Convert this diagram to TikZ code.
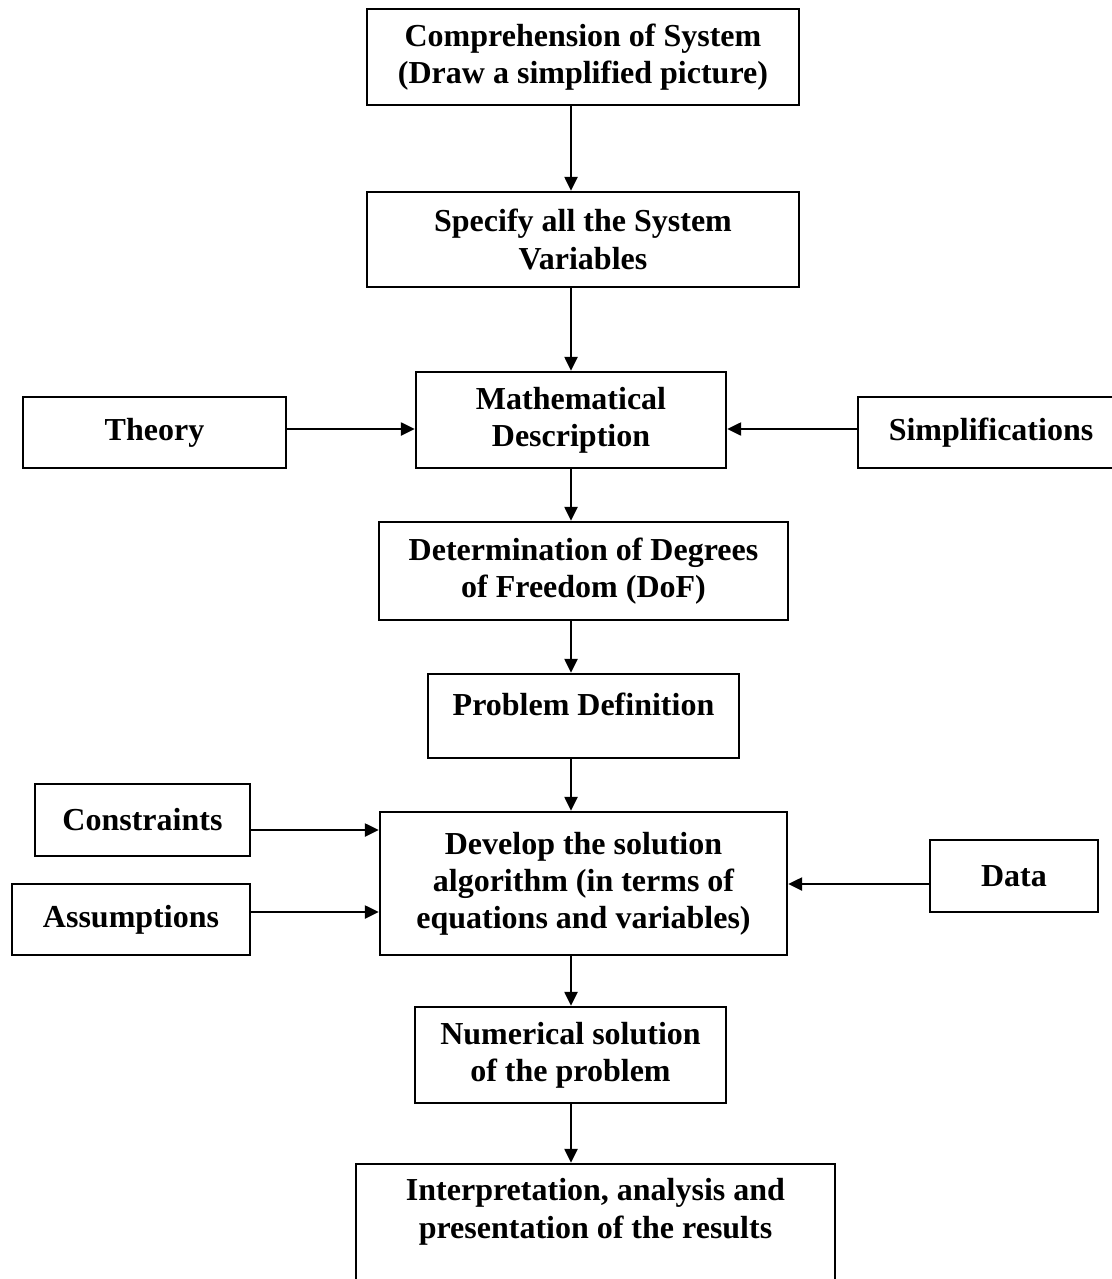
\documentclass[tikz,border=0pt]{standalone}
\usepackage{fontspec}
\setmainfont{Liberation Serif}
\usetikzlibrary{arrows.meta}
\begin{document}
\begin{tikzpicture}[x=0.5pt,y=-0.5pt,line cap=butt,line join=miter,
  box/.style={draw,line width=1.2pt,inner sep=0pt,align=center,
              font=\fontsize{16}{18.6}\selectfont\bfseries},
  arr/.style={-{Triangle[length=7pt,width=6.5pt]},line width=1.2pt}]
\useasboundingbox (0,0) rectangle (1112,1279);
\coordinate (axis) at (571,0);
% main column
\node[box,minimum width=216pt,minimum height=48pt] (comp) at (583,57)
  {Comprehension of System\\(Draw a simplified picture)};
\node[box,minimum width=216pt,minimum height=47.5pt] (spec) at (583,239.5)
  {Specify all the System\\Variables};
\node[box,minimum width=155pt,minimum height=48pt] (math) at (571,420)
  {Mathematical\\Description};
\node[box,minimum width=204.5pt,minimum height=49pt] (det) at (583.5,571)
  {Determination of Degrees\\of Freedom (DoF)};
\node[box,minimum width=155.5pt,minimum height=42pt,
      text height=11pt,text depth=12pt] (prob) at (583.5,716)
  {Problem Definition};
\node[box,minimum width=203.5pt,minimum height=71.5pt] (dev) at (583.5,883.5)
  {Develop the solution\\algorithm (in terms of\\equations and variables)};
\node[box,minimum width=155.5pt,minimum height=48pt] (num) at (570.5,1055)
  {Numerical solution\\of the problem};
\node[box,minimum width=239.5pt,minimum height=63pt,
      text height=29.6pt,text depth=18.6pt] (interp) at (595.5,1227)
  {Interpretation, analysis and\\presentation of the results};
% side inputs
\node[box,minimum width=131.5pt,minimum height=35.5pt] (theory) at (154.5,432.5) {Theory};
\node[box,minimum width=133pt,minimum height=35.5pt] (simp) at (991,432.5) {Simplifications};
\node[box,minimum width=107.5pt,minimum height=36pt] (cons) at (142.5,820) {Constraints};
\node[box,minimum width=119pt,minimum height=35.5pt] (assum) at (131,919.5) {Assumptions};
\node[box,minimum width=84pt,minimum height=36pt] (data) at (1014,876) {Data};
% arrows
\foreach \a/\b in {comp/spec,spec/math,math/det,det/prob,prob/dev,dev/num,num/interp}
  \draw[arr] (\a.south -| axis) -- (\b.north -| axis);
\draw[arr] ([yshift=1.75pt]theory.east) -- ([yshift=1.75pt]theory.east -| math.west);
\draw[arr] ([yshift=1.75pt]simp.west) -- ([yshift=1.75pt]simp.west -| math.east);
\draw[arr] ([yshift=-5pt]cons.east) -- ([yshift=-5pt]cons.east -| dev.west);
\draw[arr] ([yshift=3.75pt]assum.east) -- ([yshift=3.75pt]assum.east -| dev.west);
\draw[arr] ([yshift=-4pt]data.west) -- ([yshift=-4pt]data.west -| dev.east);
\end{tikzpicture}
\end{document}
